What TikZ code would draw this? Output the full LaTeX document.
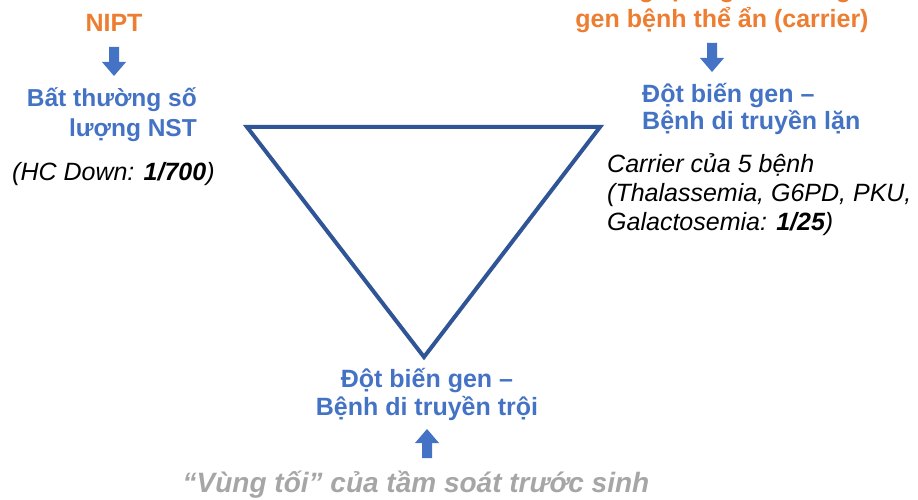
\documentclass[tikz,border=0pt]{standalone}
\usepackage{fontspec}
\setmainfont{Liberation Sans}
\definecolor{orangetxt}{HTML}{ED7D31}
\definecolor{bluetxt}{HTML}{4472C4}
\definecolor{triblue}{HTML}{2F5597}
\definecolor{graytxt}{HTML}{A6A6A6}
\begin{document}
\begin{tikzpicture}[x=1pt,y=-1pt,
  headtxt/.style={font=\fontsize{25}{30}\selectfont\bfseries, text=orangetxt, inner sep=0pt},
  cattxt/.style={font=\fontsize{25}{29}\selectfont\bfseries, text=bluetxt, inner sep=0pt},
  notetxt/.style={font=\fontsize{25}{29}\selectfont\itshape, inner sep=0pt},
  graynote/.style={font=\fontsize{28}{32}\selectfont\bfseries\itshape, text=graytxt, inner sep=0pt},
  blockdown/.pic={\fill[bluetxt] (-5,0) -- (5,0) -- (5,15) -- (12,15) -- (0,29)
    -- (-12,15) -- (-5,15) -- cycle;}]
\useasboundingbox (0,0) rectangle (918,500);
\clip (0,0) rectangle (918,500);

% the screening pyramid
\coordinate (tl) at (247,127);
\coordinate (tr) at (600,127);
\coordinate (bt) at (424,357);
\draw[triblue, line width=4pt, line join=miter] (tl) -- (tr) -- (bt) -- cycle;

% left corner: chromosome number
\node[headtxt, anchor=base] (nipt) at (114,32) {NIPT};
\pic (arrL) at (114,47) {blockdown};
\node[cattxt, align=right, anchor=base east, font=\fontsize{24.5}{30}\selectfont\bfseries] (chrom) at (197,137) {Bất thường số\\lượng NST};
\node[notetxt, anchor=base west] (down) at (12,180) {(HC Down: \textbf{1/700})};

% right corner: recessive disease carriers
\node[headtxt, align=center, anchor=base] (carrier) at (722,28) {Sàng lọc người mang\\gen bệnh thể ẩn (carrier)};
\pic (arrR) at (712,43) {blockdown};
\node[cattxt, align=left, anchor=base west, font=\fontsize{25}{28}\selectfont\bfseries] (recess) at (642,130) {Đột biến gen –\\Bệnh di truyền lặn};
\node[notetxt, align=left, anchor=base west] (five) at (607,230) {Carrier của 5 bệnh\\(Thalassemia, G6PD, PKU,\\Galactosemia: \textbf{1/25})};

% bottom corner: dominant disease
\node[cattxt, align=center, anchor=base, font=\fontsize{25}{27.5}\selectfont\bfseries] (domin) at (427,415) {Đột biến gen –\\Bệnh di truyền trội};
\pic[rotate=180] (arrB) at (427,458) {blockdown};
\node[graynote, anchor=base] (dark) at (416,492) {“Vùng tối” của tầm soát trước sinh};
\end{tikzpicture}
\end{document}
